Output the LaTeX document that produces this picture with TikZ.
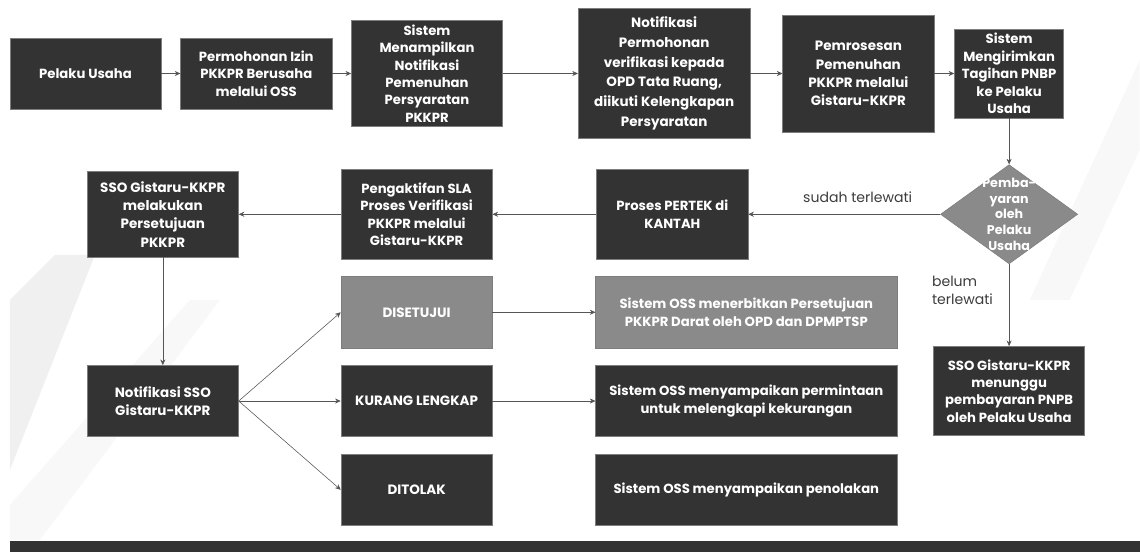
\documentclass[tikz,border=0pt]{standalone}
\usepackage{fontspec}
\setmainfont{Poppins}
\usetikzlibrary{arrows.meta, positioning, shapes.geometric}
\definecolor{boxdark}{RGB}{51,51,51}
\definecolor{boxgrey}{RGB}{138,138,138}
\definecolor{boxline}{RGB}{125,125,125}
\definecolor{linegrey}{RGB}{85,85,85}
\definecolor{notegrey}{RGB}{60,60,60}
\definecolor{bandgrey}{RGB}{240,240,240}
\definecolor{bandlight}{RGB}{248,248,248}

\begin{document}
\begin{tikzpicture}[
        node distance=0.5cm and 0.5cm,
        box/.style={rectangle, draw=boxline, fill=boxdark, text=white, thin, inner sep=1pt,
                    minimum width=3.78cm, minimum height=1.78cm, align=center,
                    font=\fontsize{9.4}{12.4}\selectfont\bfseries},
        greybox/.style={box, fill=boxgrey},
        widebox/.style={box, minimum width=7.53cm, font=\fontsize{9.4}{12.6}\selectfont\bfseries},
        decision/.style={diamond, draw=boxline, fill=boxgrey, thin, inner sep=0pt,
                         minimum width=3.43cm, minimum height=2.48cm},
        arrow/.style={draw, -{Stealth[length=4pt, width=3.6pt]}, linegrey, thin},
        note/.style={font=\fontsize{10}{12.4}\selectfont, text=notegrey}
    ]
    \useasboundingbox (0,0) rectangle (28.5,-13.8);
    % faint background bands
    \begin{scope}[x=0.025cm, y=-0.025cm]
        \fill[bandgrey]  (10,470) -- (10,300) -- (55,255) -- (95,255) -- cycle;
        \fill[bandlight] (10,540) -- (10,505) -- (190,300) -- (220,300) -- (40,540) -- cycle;
        \fill[bandlight] (1140,60) -- (1140,150) -- (1070,300) -- (1030,300) -- cycle;
        \fill[boxdark] (10,541) rectangle (1140,552);
    \end{scope}

    % top row
    \node [box] (pelaku) at (2.1375,-1.8375) {Pelaku Usaha};
    \node [box, right=0.475cm of pelaku] (mohon) {Permohonan Izin\\PKKPR Berusaha\\melalui OSS};
    \node [box, right=0.475cm of mohon, minimum height=2.65cm] (tampil) {Sistem\\Menampilkan\\Notifikasi\\Pemenuhan\\Persyaratan\\PKKPR};
    \node [box, right=1.875cm of tampil, minimum width=4.3cm, minimum height=3.25cm,
           font=\fontsize{9.6}{14}\selectfont\bfseries] (opd) {Notifikasi\\Permohonan\\verifikasi kepada\\OPD Tata Ruang,\\diikuti Kelengkapan\\Persyaratan};
    \node [box, right=0.8cm of opd, minimum height=2.93cm,
           font=\fontsize{9.6}{13}\selectfont\bfseries] (proses) {Pemrosesan\\Pemenuhan\\PKKPR melalui\\Gistaru-KKPR};
    \node [box, right=0.5cm of proses, minimum width=2.73cm, minimum height=2.23cm] (tagihan) {Sistem\\Mengirimkan\\Tagihan PNBP\\ke Pelaku\\Usaha};

    % middle row
    \node [decision, below=1.15cm of tagihan,
           label={[text=white, align=center, font=\fontsize{9}{11.2}\selectfont\bfseries]center:Pemba-\\yaran\\oleh\\Pelaku\\Usaha}] (bayar) {};
    \node [box, left=4.8cm of bayar, minimum height=2.23cm] (pertek) {Proses PERTEK di\\KANTAH};
    \node [box, left=2.6cm of pertek, minimum height=2.23cm] (aktif) {Pengaktifan SLA\\Proses Verifikasi\\PKKPR melalui\\Gistaru-KKPR};
    \node [box, left=2.55cm of aktif, minimum height=2.13cm,
           font=\fontsize{9.6}{13}\selectfont\bfseries] (persetujuan) {SSO Gistaru-KKPR\\melakukan\\Persetujuan\\PKKPR};
    \node [box, below=2.05cm of bayar, minimum height=2.23cm] (tunggu) {SSO Gistaru-KKPR\\menunggu\\pembayaran PNPB\\oleh Pelaku Usaha};

    % bottom rows
    \node [box, below=2.7cm of persetujuan, font=\fontsize{9.6}{13}\selectfont\bfseries] (notifsso) {Notifikasi SSO\\Gistaru-KKPR};
    \node [box, right=2.55cm of notifsso, font=\fontsize{9.6}{13}\selectfont\bfseries] (kurang) {KURANG LENGKAP};
    \node [greybox, above=0.425cm of kurang, font=\fontsize{9.6}{13}\selectfont\bfseries] (disetujui) {DISETUJUI};
    \node [box, below=0.425cm of kurang, font=\fontsize{9.6}{13}\selectfont\bfseries] (ditolak) {DITOLAK};
    \node [widebox, fill=boxgrey, right=2.575cm of disetujui] (terbit) {Sistem OSS menerbitkan Persetujuan\\PKKPR Darat oleh OPD dan DPMPTSP};
    \node [widebox, right=2.575cm of kurang] (minta) {Sistem OSS menyampaikan permintaan\\untuk melengkapi kekurangan};
    \node [widebox, right=2.575cm of ditolak] (tolak) {Sistem OSS menyampaikan penolakan};

    \path [arrow] (pelaku)  -- (mohon);
    \path [arrow] (mohon)   -- (tampil);
    \path [arrow] (tampil)  -- (opd);
    \path [arrow] (opd)     -- (proses);
    \path [arrow] (proses)  -- (tagihan);
    \path [arrow] (tagihan) -- (bayar);
    \path [arrow] (bayar)   -- node [note, above=5pt, pos=0.43] {sudah terlewati} (pertek);
    \path [arrow] (bayar)   -- node [note, left=8pt, align=left, pos=0.32] {belum\\terlewati} (tunggu);
    \path [arrow] (pertek)  -- (aktif);
    \path [arrow] (aktif)   -- (persetujuan);
    \path [arrow] (persetujuan) -- (notifsso);
    \path [arrow] (notifsso.east) -- (disetujui.west);
    \path [arrow] (notifsso.east) -- (kurang.west);
    \path [arrow] (notifsso.east) -- (ditolak.west);
    \path [arrow] (disetujui) -- (terbit);
    \path [arrow] (kurang)    -- (minta);
\end{tikzpicture}
\end{document}
